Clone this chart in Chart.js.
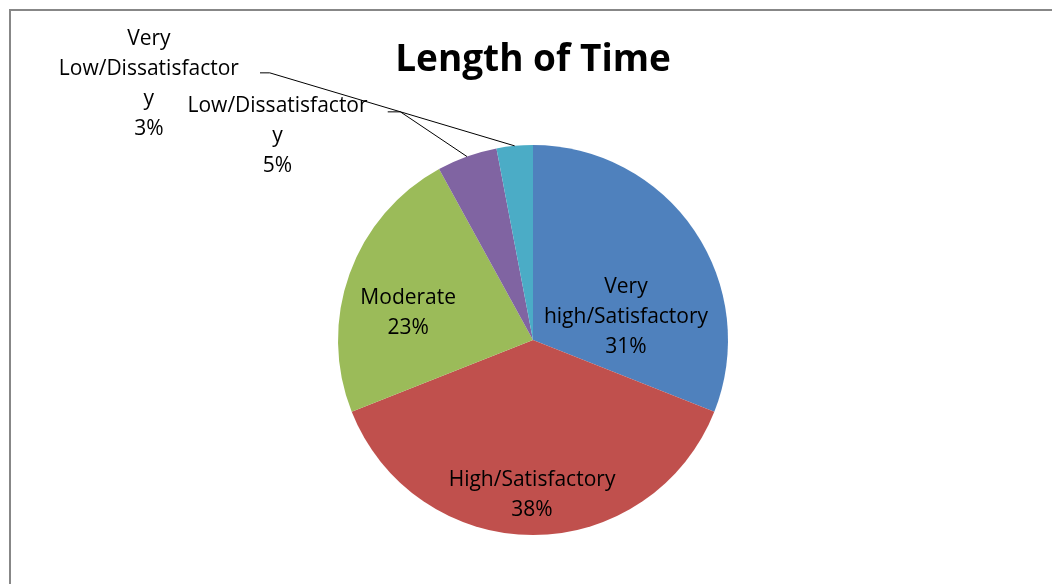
<!DOCTYPE html>
<html>
<head>
<meta charset="utf-8">
<script src="https://cdn.jsdelivr.net/npm/chart.js@4"></script>
<style>
  html, body { margin: 0; padding: 0; background: #fff; }
  #wrap { position: absolute; left: 0; top: 0; width: 1052px; height: 584px; }
</style>
</head>
<body>
<div id="wrap"><canvas id="c" width="1052" height="584"></canvas></div>
<script>
const chartTitle = "Length of Time";
const categories = ["Very high/Satisfactory", "High/Satisfactory", "Moderate", "Low/Dissatisfactory", "Very Low/Dissatisfactory"];
const labelLines = [
  ["Very", "high/Satisfactory"],
  ["High/Satisfactory"],
  ["Moderate"],
  ["Low/Dissatisfactor", "y"],
  ["Very", "Low/Dissatisfactor", "y"]
];
const percentages = [31, 38, 23, 5, 3];
const colors = ["#4F81BD", "#C0504D", "#9BBB59", "#8064A2", "#4BACC6"];

// label placement (relative to pie centre, in units of radius)
const labelOffsets = [
  { dx: 0.477, dy: -0.13, outside: false },
  { dx: -0.005, dy: 0.785, outside: false },
  { dx: -0.64, dy: -0.15, outside: false },
  { dx: -1.31, dy: -1.055, outside: true, lineFrom: [-0.68, -1.17], hook: 0.065 },
  { dx: -1.97, dy: -1.325, outside: true, lineFrom: [-1.35, -1.37], hook: 0.05 }
];

const FONT = "'Open Sans', Lato, sans-serif";
const LINE_H = 30;
const TEXT_SHIFT = 2;

const decor = {
  id: 'decor',
  beforeDraw(chart) {
    const ctx = chart.ctx;
    ctx.save();
    ctx.fillStyle = '#fff';
    ctx.fillRect(0, 0, chart.width, chart.height);
    ctx.strokeStyle = '#878787';
    ctx.lineWidth = 2;
    ctx.beginPath();
    ctx.moveTo(10, chart.height);
    ctx.lineTo(10, 10);
    ctx.lineTo(chart.width, 10);
    ctx.stroke();
    ctx.restore();
  },
  afterDraw(chart) {
    const ctx = chart.ctx;
    const arcs = chart.getDatasetMeta(0).data;
    const cx = arcs[0].x, cy = arcs[0].y, R = arcs[0].outerRadius;
    ctx.save();
    // title
    ctx.fillStyle = '#000';
    ctx.font = "bold 37px " + FONT;
    ctx.textAlign = 'center';
    ctx.textBaseline = 'alphabetic';
    ctx.fillText(chartTitle, cx, 71);
    // labels
    ctx.textBaseline = 'middle';
    ctx.font = "21px " + FONT;
    arcs.forEach((arc, i) => {
      const o = labelOffsets[i];
      const lines = labelLines[i].concat([percentages[i] + "%"]);
      const bx = cx + o.dx * R, by = cy + o.dy * R + TEXT_SHIFT;
      const top = by - (lines.length - 1) * LINE_H / 2;
      lines.forEach((t, k) => ctx.fillText(t, bx, top + k * LINE_H));
      if (o.outside) {
        const mid = (arc.startAngle + arc.endAngle) / 2;
        const px = cx + Math.cos(mid) * R, py = cy + Math.sin(mid) * R;
        const sx = cx + o.lineFrom[0] * R, sy = cy + o.lineFrom[1] * R;
        ctx.strokeStyle = '#000';
        ctx.lineWidth = 1;
        ctx.beginPath();
        ctx.moveTo(sx - o.hook * R, sy);
        ctx.lineTo(sx, sy);
        ctx.lineTo(px, py);
        ctx.stroke();
      }
    });
    ctx.restore();
  }
};

new Chart(document.getElementById('c'), {
  type: 'pie',
  data: {
    labels: categories,
    datasets: [{
      data: percentages,
      backgroundColor: colors,
      borderWidth: 0
    }]
  },
  options: {
    responsive: false,
    animation: false,
    layout: { padding: { top: 145, bottom: 49, left: 14, right: 0 } },
    plugins: {
      legend: { display: false },
      title: { display: false },
      tooltip: { enabled: false }
    }
  },
  plugins: [decor]
});
</script>
</body>
</html>
